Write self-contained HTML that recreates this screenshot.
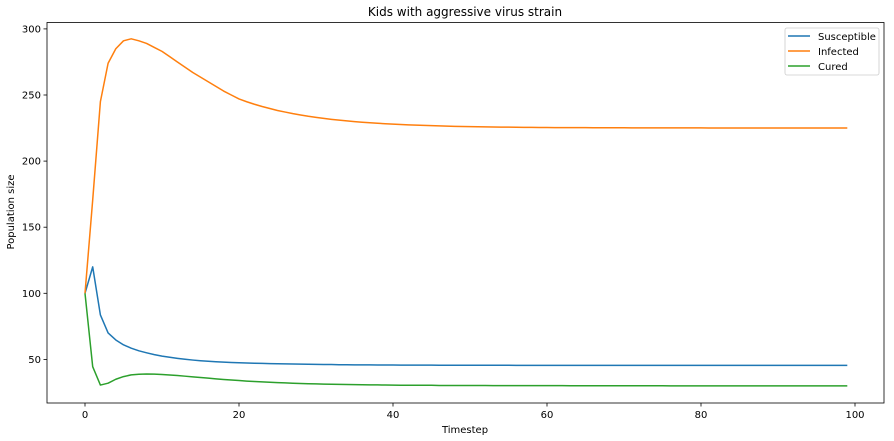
<!DOCTYPE html>
<html><head><meta charset="utf-8"><style>
body{margin:0;background:#fff;}
svg{display:block;font-family:"DejaVu Sans","Liberation Sans",sans-serif;}
</style></head><body>
<svg id="chart" width="894" height="441" viewBox="0 0 894 441" xmlns="http://www.w3.org/2000/svg">
<text x="465" y="16" font-size="12" text-anchor="middle" fill="#000">Kids with aggressive virus strain</text>
<text x="465" y="433" font-size="10" text-anchor="middle" fill="#000">Timestep</text>
<text x="14" y="212" font-size="10" text-anchor="middle" fill="#000" transform="rotate(-90 14 212)">Population size</text>
<g id="plot"></g>
<rect x="47" y="22.5" width="837" height="380.5" fill="none" stroke="#000" stroke-width="0.8"/>
<g>
<rect x="785" y="28" width="94" height="47" rx="2" fill="#fff" stroke="#ccc" stroke-width="0.8"/>
<g><line x1="788" y1="36" x2="810" y2="36" stroke="#1f77b4" stroke-width="1.5"/><text x="818" y="40" font-size="10">Susceptible</text></g>
<g><line x1="788" y1="51" x2="810" y2="51" stroke="#ff7f0e" stroke-width="1.5"/><text x="818" y="55" font-size="10">Infected</text></g>
<g><line x1="788" y1="66" x2="810" y2="66" stroke="#2ca02c" stroke-width="1.5"/><text x="818" y="70" font-size="10">Cured</text></g>
</g>
</svg>
<script>
const xTicks=[0,20,40,60,80,100];
const yTicks=[50,100,150,200,250,300];
const susceptible=[100,120,83.6,70,64.7,61,58.5,56.5,55,53.6,52.5,51.6,50.8,50.1,49.5,49,48.6,48.2,47.9,47.7,47.5,47.3,47.1,47.0,46.8,46.7,46.6,46.5,46.4,46.3,46.2,46.1,46.1,46.0,46.0,45.9,45.9,45.9,45.8,45.8,45.8,45.7,45.7,45.7,45.7,45.7,45.6,45.6,45.6,45.6,45.6,45.6,45.6,45.6,45.6,45.6,45.5,45.5,45.5,45.5,45.5,45.5,45.5,45.5,45.5,45.5,45.5,45.5,45.5,45.5,45.5,45.5,45.5,45.5,45.5,45.5,45.5,45.5,45.5,45.5,45.5,45.5,45.5,45.5,45.5,45.5,45.5,45.5,45.5,45.5,45.5,45.5,45.5,45.5,45.5,45.5,45.5,45.5,45.5,45.5];
const infected=[100,170.6,245,274,285,291,292.5,291,289,286,283,279,275,271,267,263.5,260,256.5,253,250,247,244.9,243,241.3,239.8,238.3,237.1,235.9,234.9,233.9,233.1,232.3,231.6,231,230.4,229.9,229.4,229,228.6,228.3,228,227.7,227.4,227.2,227,226.8,226.6,226.5,226.3,226.2,226.1,226,225.9,225.8,225.7,225.66,225.6,225.5,225.5,225.4,225.4,225.3,225.3,225.3,225.3,225.3,225.2,225.2,225.2,225.2,225.2,225.1,225.1,225.1,225.1,225.1,225.1,225.1,225.1,225.1,225.1,225,225,225,225,225,225,225,225,225,225,225,225,225,225,225,225,225,225,225];
const cured=[100,44.5,30.6,32,35,37,38.3,38.8,39,38.9,38.6,38.2,37.8,37.3,36.8,36.3,35.8,35.3,34.8,34.4,34,33.6,33.3,33,32.7,32.4,32.2,32,31.8,31.6,31.5,31.3,31.2,31.1,31,30.9,30.8,30.7,30.7,30.6,30.5,30.4,30.4,30.4,30.4,30.4,30.3,30.3,30.3,30.3,30.3,30.3,30.3,30.2,30.2,30.2,30.2,30.2,30.2,30.2,30.2,30.2,30.2,30.1,30.1,30.1,30.1,30.1,30.1,30.1,30.1,30.1,30.1,30.1,30.1,30.1,30,30,30,30,30,30,30,30,30,30,30,30,30,30,30,30,30,30,30,30,30,30,30,30];
const NS="http://www.w3.org/2000/svg";
function xs(v){return 85+v*7.7;}
function ys(v){return 293.3-(v-100)*1.322;}
const g=document.getElementById('plot');
function mk(t,a){const e=document.createElementNS(NS,t);for(const k in a)e.setAttribute(k,a[k]);return e;}
xTicks.forEach(t=>{
  const grp=mk('g',{});
  
  
  grp.appendChild(mk('line',{x1:xs(t),x2:xs(t),y1:403,y2:406.5,stroke:'#000','stroke-width':0.8}));
  const tx=mk('text',{x:xs(t),y:418,'font-size':10,'text-anchor':'middle'});tx.textContent=t;grp.appendChild(tx);
  g.appendChild(grp);
});
yTicks.forEach(t=>{
  const grp=mk('g',{});
  
  
  grp.appendChild(mk('line',{x1:43.5,x2:47,y1:ys(t),y2:ys(t),stroke:'#000','stroke-width':0.8}));
  const tx=mk('text',{x:41,y:ys(t)+3.5,'font-size':10,'text-anchor':'end'});tx.textContent=t;grp.appendChild(tx);
  g.appendChild(grp);
});
[[susceptible,'#1f77b4','susceptible-line'],[infected,'#ff7f0e','infected-line'],[cured,'#2ca02c','cured-line']].forEach(([d,c,n])=>{
  const p=mk('polyline',{points:d.map((v,i)=>xs(i).toFixed(2)+','+ys(v).toFixed(2)).join(' '),fill:'none',stroke:c,'stroke-width':1.5,'stroke-linejoin':'round'});
  
  
  g.appendChild(p);
});
</script>
</body></html>
